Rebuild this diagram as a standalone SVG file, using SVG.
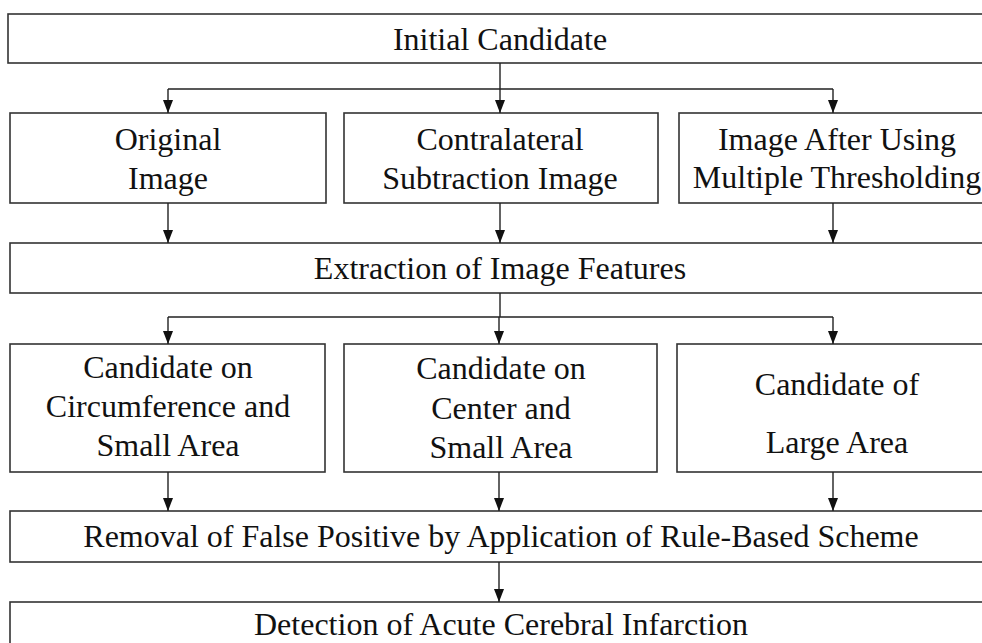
<svg xmlns="http://www.w3.org/2000/svg" width="982" height="643" viewBox="0 0 982 643">
<style>
.box{fill:#fff;stroke:#333;stroke-width:1.6}
.t{font-family:'Liberation Serif','Times New Roman',Times,'DejaVu Serif',serif;font-size:32px;fill:#111;text-anchor:middle}
.c{fill:none;stroke:#222;stroke-width:1.4;marker-end:url(#ah)}
.l{fill:none;stroke:#222;stroke-width:1.4}
</style>
<defs>
<marker id="ah" markerUnits="userSpaceOnUse" markerWidth="13" markerHeight="10" refX="13" refY="5" orient="auto">
<path d="M0,0 L13,5 L0,10 z" fill="#111"/>
</marker>
</defs>
<rect width="982" height="643" fill="#fff"/>
<g font-family="Liberation Serif, serif">
<g id="n1"><rect class="box" x="8" y="14" width="986" height="49"/><text class="t" x="500" y="50">Initial Candidate</text></g>
<g id="n2"><rect class="box" x="10" y="113" width="316" height="90"/><text class="t" x="168" y="150">Original</text><text class="t" x="168" y="189">Image</text></g>
<g id="n3"><rect class="box" x="344" y="113" width="314" height="90"/><text class="t" x="500" y="150">Contralateral</text><text class="t" x="500" y="189">Subtraction Image</text></g>
<g id="n4"><rect class="box" x="679" y="113" width="316" height="90"/><text class="t" x="837" y="150">Image After Using</text><text class="t" x="837" y="188">Multiple Thresholding</text></g>
<g id="n5"><rect class="box" x="10" y="243" width="985" height="50"/><text class="t" x="500" y="279">Extraction of Image Features</text></g>
<g id="n6"><rect class="box" x="10" y="344" width="315" height="128"/><text class="t" x="168" y="378">Candidate on</text><text class="t" x="168" y="417">Circumference and</text><text class="t" x="168" y="456">Small Area</text></g>
<g id="n7"><rect class="box" x="344" y="344" width="313" height="128"/><text class="t" x="501" y="379">Candidate on</text><text class="t" x="501" y="419">Center and</text><text class="t" x="501" y="458">Small Area</text></g>
<g id="n8"><rect class="box" x="677" y="344" width="318" height="128"/><text class="t" x="837" y="395">Candidate of</text><text class="t" x="837" y="453">Large Area</text></g>
<g id="n9"><rect class="box" x="10" y="511" width="985" height="51"/><text class="t" x="501" y="547">Removal of False Positive by Application of Rule-Based Scheme</text></g>
<g id="n10"><rect class="box" x="10" y="602" width="985" height="52"/><text class="t" x="501" y="635">Detection of Acute Cerebral Infarction</text></g>
</g>
<g id="connectors">
<path class="l" d="M500,63 V89 M168,89 H833"/>
<path class="c" d="M168,89 V113"/>
<path class="c" d="M500,89 V113"/>
<path class="c" d="M833,89 V113"/>
<path class="c" d="M168,203 V243"/>
<path class="c" d="M500,203 V243"/>
<path class="c" d="M833,203 V243"/>
<path class="l" d="M500,293 V317 M168,317 H833"/>
<path class="c" d="M168,317 V344"/>
<path class="c" d="M499,317 V344"/>
<path class="c" d="M833,317 V344"/>
<path class="c" d="M168,472 V511"/>
<path class="c" d="M499,472 V511"/>
<path class="c" d="M833,472 V511"/>
<path class="c" d="M499,562 V602"/>
</g>
</svg>
